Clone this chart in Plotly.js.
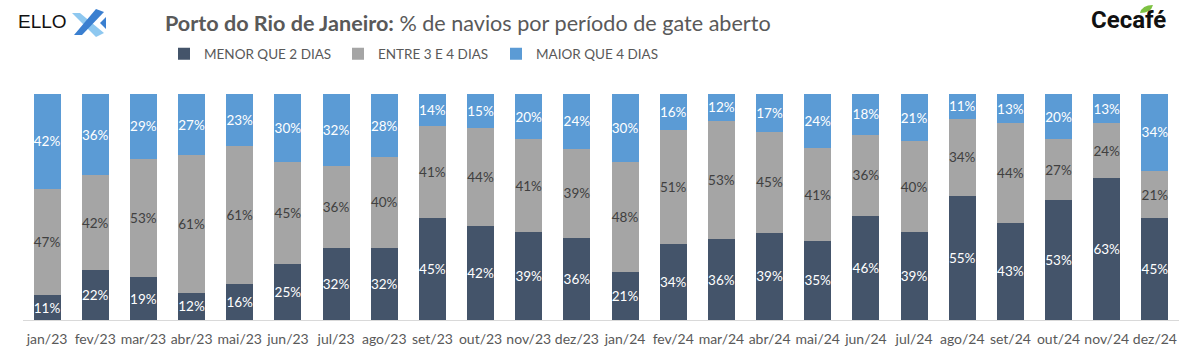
<!DOCTYPE html>
<html><head><meta charset="utf-8">
<script src="https://cdn.plot.ly/plotly-3.0.1.min.js"></script>
<style>body{margin:0;background:#fff}#chart{width:1200px;height:356px}</style>
</head><body><div id="chart"></div>
<script>
const months = ["jan/23","fev/23","mar/23","abr/23","mai/23","jun/23","jul/23","ago/23","set/23","out/23","nov/23","dez/23",
                "jan/24","fev/24","mar/24","abr/24","mai/24","jun/24","jul/24","ago/24","set/24","out/24","nov/24","dez/24"];
const menorQue2 = [11,22,19,12,16,25,32,32,45,42,39,36,21,34,36,39,35,46,39,55,43,53,63,45];
const entre3e4  = [47,42,53,61,61,45,36,40,41,44,41,39,48,51,53,45,41,36,40,34,44,27,24,21];
const maiorQue4 = [42,36,29,27,23,30,32,28,14,15,20,24,30,16,12,17,24,18,21,11,13,20,13,34];
const seriesNames = ["MENOR QUE 2 DIAS","ENTRE 3 E 4 DIAS","MAIOR QUE 4 DIAS"];

const W=1200,H=356,L=23,R=21,T=94,B=36;
const PW=W-L-R, PH=H-T-B;
const px = x => (x-L)/PW;
const py = y => (H-B-y)/PH;

const font = "Lato, 'Open Sans', sans-serif";
function mk(vals,name,color,tcolor,leg){
  return {type:'bar',x:months,y:vals,name:name,legend:leg,
    marker:{color:color},
    text:vals.map(v=>v+'%'),texttemplate:'%{text}',textposition:'inside',insidetextanchor:'middle',
    textangle:0,textfont:{family:font,size:13.5,color:tcolor},hoverinfo:'skip'};
}
const data=[
  mk(menorQue2,seriesNames[0],'#44546A','#ffffff','legend'),
  mk(entre3e4,seriesNames[1],'#A5A5A5','#404040','legend2'),
  mk(maiorQue4,seriesNames[2],'#5B9BD5','#ffffff','legend3')
];
const legBase={orientation:'h',yanchor:'middle',y:py(54),xanchor:'left',font:{family:font,size:13.5,color:'#595959'},
  bgcolor:'rgba(0,0,0,0)',itemwidth:30,tracegroupgap:0};
const layout={
  width:W,height:H,margin:{l:L,r:R,t:T,b:B},
  paper_bgcolor:'#fff',plot_bgcolor:'#fff',
  barmode:'stack',barnorm:'percent',bargap:0.44,
  font:{family:font,color:'#595959'},
  uniformtext:{mode:'show',minsize:13},
  xaxis:{showline:true,linecolor:'#D9D9D9',linewidth:1,ticks:'',ticklabelstandoff:6,
         tickfont:{family:font,size:14,color:'#595959'},fixedrange:true},
  yaxis:{range:[0,100],visible:false,fixedrange:true},
  showlegend:true,
  legend:Object.assign({},legBase,{x:px(164)}),
  legend2:Object.assign({},legBase,{x:px(338)}),
  legend3:Object.assign({},legBase,{x:px(496)}),
  annotations:[
    {xref:'paper',yref:'paper',x:px(163),y:py(23),xanchor:'left',yanchor:'middle',showarrow:false,
     text:'<b>Porto do Rio de Janeiro:</b> % de navios por período de gate aberto',font:{family:font,size:21.6,color:'#595959'}},
    {xref:'paper',yref:'paper',x:px(16),y:py(22),xanchor:'left',yanchor:'middle',showarrow:false,
     text:'ELLO',font:{family:"'Liberation Sans', Arial, sans-serif",size:19,color:'#111'}},
    {xref:'paper',yref:'paper',x:px(1089),y:py(20),xanchor:'left',yanchor:'middle',showarrow:false,
     text:'<b>Cecafé</b>',font:{family:"'Liberation Sans Narrow', Roboto, sans-serif",size:24,color:'#111'}}
  ],
  shapes:[
    {type:'path',xref:'paper',yref:'paper',line:{width:0},fillcolor:'#8EC8F0',
     path:`M ${px(72)} ${py(13)} L ${px(80)} ${py(13)} L ${px(104)} ${py(33)} L ${px(96)} ${py(37)} Z`},
    {type:'path',xref:'paper',yref:'paper',line:{width:0},fillcolor:'#3A7FD0',
     path:`M ${px(96)} ${py(9)} L ${px(104)} ${py(12)} L ${px(82)} ${py(35)} L ${px(74)} ${py(35)} Z`},
    {type:'path',xref:'paper',yref:'paper',line:{width:0},fillcolor:'#3A7FD0',
     path:`M ${px(106)} ${py(17)} L ${px(100)} ${py(23)} L ${px(106)} ${py(29)} Z`},
    {type:'path',xref:'paper',yref:'paper',line:{width:0},fillcolor:'#7DC242',
     path:`M ${px(1140)} ${py(13)} Q ${px(1142)} ${py(5)} ${px(1153)} ${py(5)} Q ${px(1151)} ${py(13)} ${px(1140)} ${py(13)} Z`}
  ]
};
Plotly.newPlot('chart',data,layout,{displayModeBar:false,staticPlot:true});
</script></body></html>
